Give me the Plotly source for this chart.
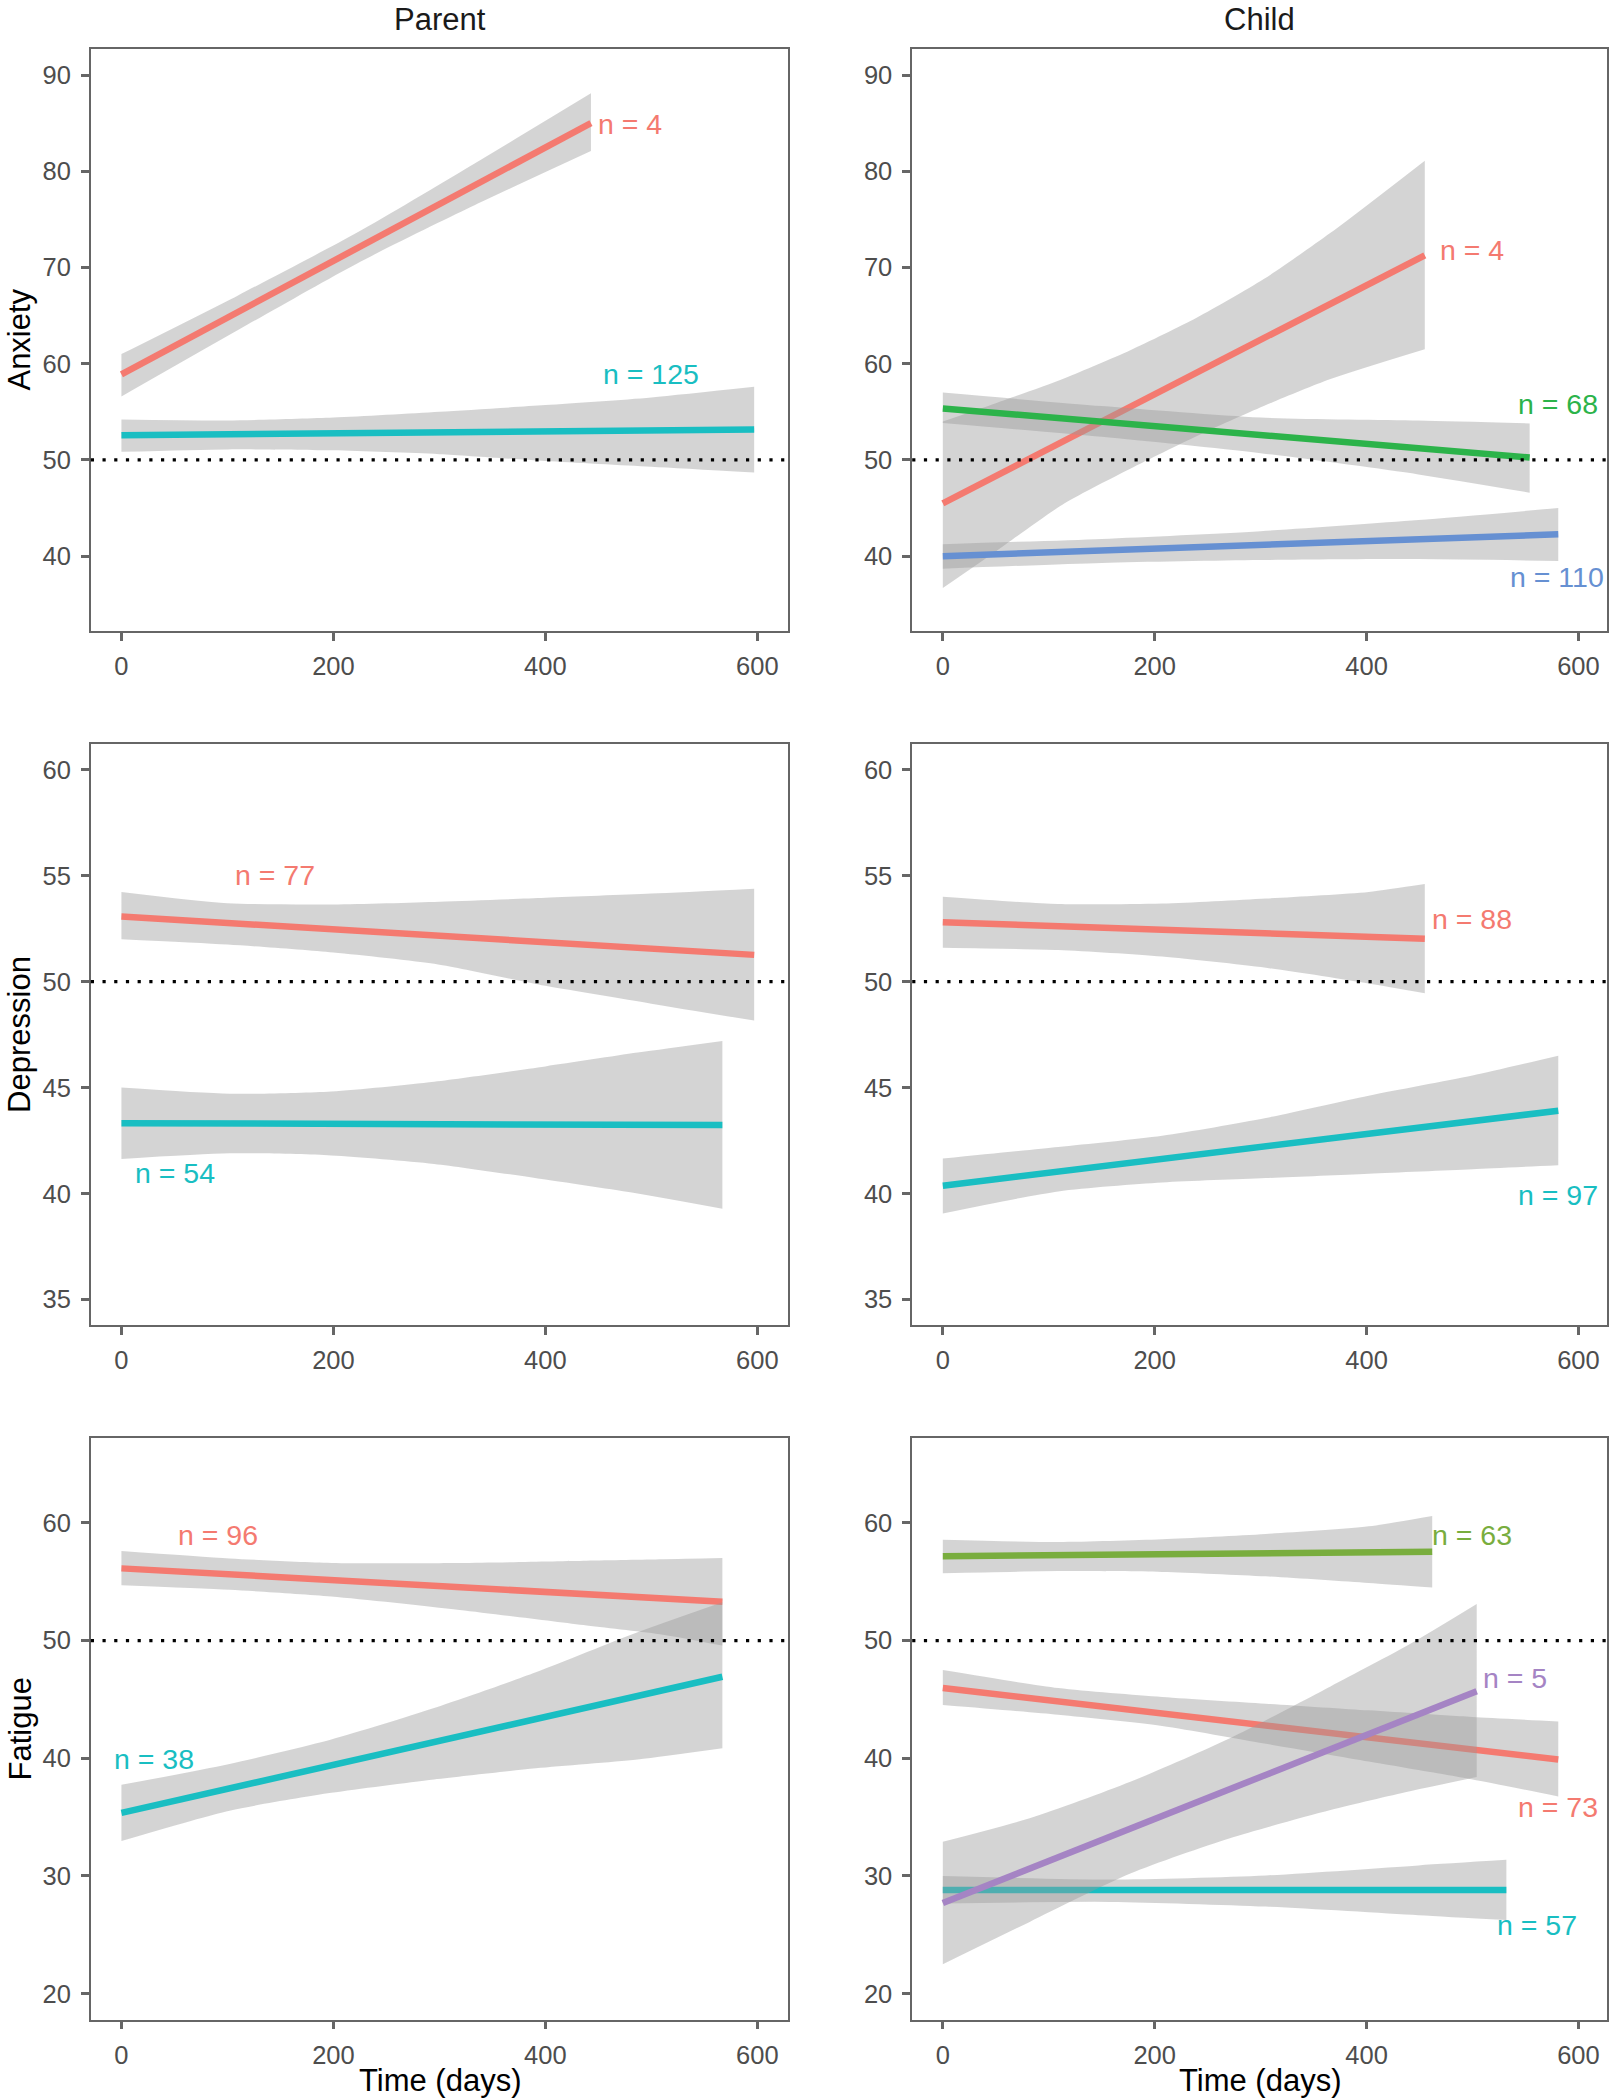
import plotly.graph_objects as go

W, H = 1611, 2100

# ---------------- data ----------------
columns = ["Parent", "Child"]
measures = ["Anxiety", "Depression", "Fatigue"]
x_ticks = [0, 200, 400, 600]
y_ticks_anxiety = [40, 50, 60, 70, 80, 90]
y_ticks_depression = [35, 40, 45, 50, 55, 60]
y_ticks_fatigue = [20, 30, 40, 50, 60]
reference_value = 50

# Parent - Anxiety
pa_red_day = [0, 443]
pa_red_fit = [58.9, 85.0]
pa_red_ci_day = [0, 110, 222, 330, 443]
pa_red_hi = [61.0, 67.1, 73.6, 80.6, 88.1]
pa_red_lo = [56.6, 63.5, 70.4, 76.3, 82.1]
pa_teal_day = [0, 597]
pa_teal_fit = [52.57, 53.17]
pa_teal_ci_day = [0, 100, 200, 300, 400, 500, 597]
pa_teal_hi = [54.2, 54.1, 54.4, 55.0, 55.7, 56.5, 57.6]
pa_teal_lo = [50.85, 51.1, 51.0, 50.6, 49.9, 49.3, 48.7]

# Child - Anxiety
ca_red_day = [0, 455]
ca_red_fit = [45.5, 71.26]
ca_red_ci_day = [0, 50, 115, 177, 240, 303, 366, 455]
ca_red_hi = [54.0, 55.9, 58.5, 61.4, 64.8, 68.8, 73.6, 81.1]
ca_red_lo = [36.7, 40.5, 45.5, 49.1, 52.5, 55.6, 58.4, 61.5]
ca_green_day = [0, 554]
ca_green_fit = [55.35, 50.25]
ca_green_ci_day = [0, 150, 300, 449, 554]
ca_green_hi = [57.0, 55.6, 54.4, 54.1, 53.8]
ca_green_lo = [53.85, 52.4, 50.7, 48.5, 46.6]
ca_blue_day = [0, 581]
ca_blue_fit = [40.0, 42.27]
ca_blue_ci_day = [0, 150, 300, 449, 581]
ca_blue_hi = [41.25, 41.8, 42.6, 43.75, 45.0]
ca_blue_lo = [38.7, 39.3, 39.6, 39.7, 39.5]

# Parent - Depression
pd_red_day = [0, 597]
pd_red_fit = [53.07, 51.26]
pd_red_ci_day = [0, 100, 200, 300, 400, 500, 597]
pd_red_hi = [54.23, 53.7, 53.64, 53.77, 53.95, 54.15, 54.38]
pd_red_lo = [52.0, 51.75, 51.37, 50.8, 49.8, 48.96, 48.16]
pd_teal_day = [0, 567]
pd_teal_fit = [43.32, 43.23]
pd_teal_ci_day = [0, 102, 198, 295, 400, 487, 567]
pd_teal_hi = [45.0, 44.71, 44.82, 45.28, 46.0, 46.65, 47.2]
pd_teal_lo = [41.63, 41.9, 41.8, 41.4, 40.66, 40.0, 39.28]

# Child - Depression
cd_red_day = [0, 455]
cd_red_fit = [52.8, 52.02]
cd_red_ci_day = [0, 109, 207, 305, 402, 455]
cd_red_hi = [54.0, 53.66, 53.68, 53.92, 54.23, 54.6]
cd_red_lo = [51.6, 51.49, 51.18, 50.65, 49.91, 49.45]
cd_teal_day = [0, 581]
cd_teal_fit = [40.37, 43.91]
cd_teal_ci_day = [0, 109, 207, 305, 402, 500, 581]
cd_teal_hi = [41.65, 42.2, 42.73, 43.57, 44.62, 45.57, 46.5]
cd_teal_lo = [39.06, 40.1, 40.52, 40.73, 40.94, 41.15, 41.34]

# Parent - Fatigue
pf_red_day = [0, 567]
pf_red_fit = [56.13, 53.29]
pf_red_ci_day = [0, 102, 198, 319, 439, 511, 567]
pf_red_hi = [57.6, 56.97, 56.59, 56.59, 56.78, 56.9, 57.0]
pf_red_lo = [54.7, 54.31, 53.74, 52.6, 51.28, 50.5, 49.57]
pf_teal_day = [0, 567]
pf_teal_fit = [35.36, 46.92]
pf_teal_ci_day = [0, 102, 198, 295, 391, 487, 567]
pf_teal_hi = [37.74, 39.52, 41.6, 44.27, 47.3, 50.7, 53.25]
pf_teal_lo = [32.97, 35.55, 37.06, 38.2, 39.15, 39.9, 40.85]

# Child - Fatigue
cf_red_day = [0, 581]
cf_red_fit = [45.97, 39.9]
cf_red_ci_day = [0, 109, 207, 305, 402, 449, 500, 581]
cf_red_hi = [47.49, 45.97, 45.21, 44.64, 44.07, 43.8, 43.51, 43.13]
cf_red_lo = [44.53, 43.7, 42.75, 41.23, 39.72, 39.0, 38.2, 36.76]
cf_green_day = [0, 462]
cf_green_fit = [57.16, 57.54]
cf_green_ci_day = [0, 109, 207, 305, 402, 462]
cf_green_hi = [58.56, 58.37, 58.6, 59.05, 59.7, 60.57]
cf_green_lo = [55.72, 55.9, 55.83, 55.45, 54.88, 54.5]
cf_teal_day = [0, 532]
cf_teal_fit = [28.8, 28.8]
cf_teal_ci_day = [0, 158, 305, 449, 532]
cf_teal_hi = [30.0, 29.7, 30.05, 30.9, 31.37]
cf_teal_lo = [27.67, 27.8, 27.4, 26.67, 26.25]
cf_purple_day = [0, 504]
cf_purple_fit = [27.7, 45.7]
cf_purple_ci_day = [0, 82, 177, 271, 366, 441, 504]
cf_purple_hi = [32.9, 34.9, 38.0, 41.7, 46.1, 49.7, 53.1]
cf_purple_lo = [22.5, 26.1, 30.2, 33.2, 35.6, 37.2, 38.4]

# n labels: text, day, value
pa_labels = [("n = 4", 480, 84.93, "red"), ("n = 125", 500, 58.92, "teal")]
ca_labels = [("n = 4", 500, 71.82, "red"), ("n = 68", 581, 55.82, "green"), ("n = 110", 580, 37.87, "blue")]
pd_labels = [("n = 77", 145, 55.01, "red"), ("n = 54", 51, 40.96, "teal")]
cd_labels = [("n = 88", 500, 52.97, "red"), ("n = 97", 581, 39.95, "teal")]
pf_labels = [("n = 96", 91, 58.94, "red"), ("n = 38", 31, 39.9, "teal")]
cf_labels = [("n = 63", 500, 58.94, "green2"), ("n = 5", 540, 46.84, "purple"),
             ("n = 73", 581, 35.85, "red"), ("n = 57", 561, 25.87, "teal")]

# ---------------- styles ----------------
COLORS = {"red": "#F47A70", "teal": "#19BEC2", "green": "#2CB34A", "blue": "#6690D2",
          "green2": "#79AD3E", "purple": "#A584C4"}
RIBBON = "rgba(153,153,153,0.42)"
FRAME = "#666666"
FONT = "Liberation Sans, Arial, Helvetica, sans-serif"

col_px = [(90.8, 788.3), (912.2, 1607.0)]
row_px = [(49.3, 630.8), (743.75, 1325.0), (1438.4, 2019.6)]
x_ranges = [(-28.9, 629.2), (-28.9, 627.0)]
y_ranges = [(32.25, 92.67), (33.80, 61.22), (17.80, 67.17)]
y_ticks = [y_ticks_anxiety, y_ticks_depression, y_ticks_fatigue]

panels = [
    [  # Anxiety
        ([("red", pa_red_day, pa_red_fit, pa_red_ci_day, pa_red_hi, pa_red_lo),
          ("teal", pa_teal_day, pa_teal_fit, pa_teal_ci_day, pa_teal_hi, pa_teal_lo)], pa_labels),
        ([("red", ca_red_day, ca_red_fit, ca_red_ci_day, ca_red_hi, ca_red_lo),
          ("green", ca_green_day, ca_green_fit, ca_green_ci_day, ca_green_hi, ca_green_lo),
          ("blue", ca_blue_day, ca_blue_fit, ca_blue_ci_day, ca_blue_hi, ca_blue_lo)], ca_labels),
    ],
    [  # Depression
        ([("red", pd_red_day, pd_red_fit, pd_red_ci_day, pd_red_hi, pd_red_lo),
          ("teal", pd_teal_day, pd_teal_fit, pd_teal_ci_day, pd_teal_hi, pd_teal_lo)], pd_labels),
        ([("red", cd_red_day, cd_red_fit, cd_red_ci_day, cd_red_hi, cd_red_lo),
          ("teal", cd_teal_day, cd_teal_fit, cd_teal_ci_day, cd_teal_hi, cd_teal_lo)], cd_labels),
    ],
    [  # Fatigue
        ([("red", pf_red_day, pf_red_fit, pf_red_ci_day, pf_red_hi, pf_red_lo),
          ("teal", pf_teal_day, pf_teal_fit, pf_teal_ci_day, pf_teal_hi, pf_teal_lo)], pf_labels),
        ([("red", cf_red_day, cf_red_fit, cf_red_ci_day, cf_red_hi, cf_red_lo),
          ("green2", cf_green_day, cf_green_fit, cf_green_ci_day, cf_green_hi, cf_green_lo),
          ("teal", cf_teal_day, cf_teal_fit, cf_teal_ci_day, cf_teal_hi, cf_teal_lo),
          ("purple", cf_purple_day, cf_purple_fit, cf_purple_ci_day, cf_purple_hi, cf_purple_lo)], cf_labels),
    ],
]

fig = go.Figure()
layout = {}
shapes = []
annotations = []

idx = 0
for r in range(3):
    for c in range(2):
        idx += 1
        xa = "x" if idx == 1 else f"x{idx}"
        ya = "y" if idx == 1 else f"y{idx}"
        xkey = "xaxis" if idx == 1 else f"xaxis{idx}"
        ykey = "yaxis" if idx == 1 else f"yaxis{idx}"
        l, rr = col_px[c]
        t, b = row_px[r]
        axis_common = dict(showline=True, mirror=True, linecolor=FRAME, linewidth=1.6,
                           ticks="outside", ticklen=8, tickwidth=2.6, tickcolor=FRAME,
                           showgrid=False, zeroline=False,
                           tickfont=dict(family=FONT, size=25.5, color="#4D4D4D"))
        layout[xkey] = dict(domain=[l / W, rr / W], range=list(x_ranges[c]), anchor=ya,
                            tickvals=x_ticks, ticklabelstandoff=4, fixedrange=True, **axis_common)
        layout[ykey] = dict(domain=[1 - b / H, 1 - t / H], range=list(y_ranges[r]), anchor=xa,
                            tickvals=y_ticks[r], ticklabelstandoff=5, fixedrange=True, **axis_common)

        series, labels = panels[r][c]
        for color, day, fit, ci_day, hi, lo in series:
            fig.add_trace(go.Scatter(x=ci_day, y=lo, mode="lines",
                                     line=dict(width=0, shape="spline", smoothing=0.7),
                                     hoverinfo="skip", showlegend=False, xaxis=xa, yaxis=ya))
            fig.add_trace(go.Scatter(x=ci_day, y=hi, mode="lines", fill="tonexty",
                                     fillcolor=RIBBON,
                                     line=dict(width=0, shape="spline", smoothing=0.7),
                                     hoverinfo="skip", showlegend=False, xaxis=xa, yaxis=ya))
            fig.add_trace(go.Scatter(x=day, y=fit, mode="lines",
                                     line=dict(color=COLORS[color], width=6.5),
                                     showlegend=False, xaxis=xa, yaxis=ya))
        for text, lx, ly, color in labels:
            annotations.append(dict(x=lx, y=ly, xref=xa, yref=ya, text=text, showarrow=False,
                                    xanchor="center", yanchor="middle",
                                    font=dict(family=FONT, size=28.5, color=COLORS[color])))
        shapes.append(dict(type="line", xref=f"{xa} domain", yref=ya, x0=0, x1=1,
                           y0=reference_value, y1=reference_value, layer="above",
                           line=dict(color="black", width=3.2, dash="3.2px,8.5px")))

# column titles and x titles
for c, name in enumerate(columns):
    l, rr = col_px[c]
    annotations.append(dict(x=(l + rr) / 2 / W, y=1, xref="paper", yref="paper",
                            text=name, showarrow=False, xanchor="center", yanchor="top",
                            font=dict(family=FONT, size=31, color="#1A1A1A")))
    annotations.append(dict(x=(l + rr) / 2 / W, y=0, xref="paper", yref="paper",
                            text="Time (days)", showarrow=False, xanchor="center", yanchor="bottom",
                            font=dict(family=FONT, size=31, color="black")))
# row titles
for r, name in enumerate(measures):
    t, b = row_px[r]
    annotations.append(dict(x=0, y=1 - (t + b) / 2 / H, xref="paper", yref="paper",
                            text=name, showarrow=False, textangle=-90,
                            xanchor="left", yanchor="middle",
                            font=dict(family=FONT, size=31, color="black")))

fig.update_layout(width=W, height=H, margin=dict(l=0, r=0, t=0, b=0),
                  plot_bgcolor="white", paper_bgcolor="white",
                  shapes=shapes, annotations=annotations, showlegend=False, **layout)

fig.write_html("out.html", config={"displayModeBar": False},
               post_script="document.body.style.margin='0';")
